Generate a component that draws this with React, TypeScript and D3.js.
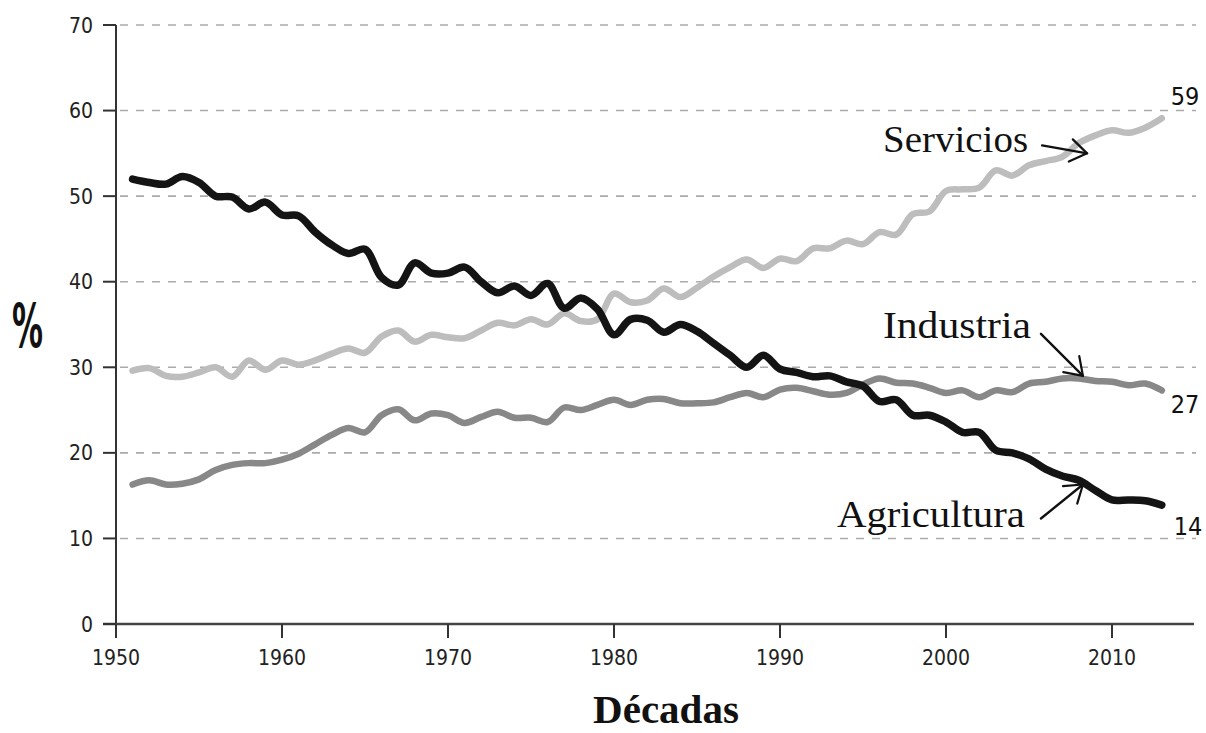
import React from "react";
import * as d3 from "d3";

const years = d3.range(1951, 2014);

const agricultura = [
  52.0, 51.6, 51.4, 52.3, 51.6, 50.0, 49.9, 48.5, 49.3, 47.8,
  47.7, 45.8, 44.3, 43.3, 43.8, 40.5, 39.6, 42.2, 41.0, 41.0,
  41.7, 40.0, 38.7, 39.5, 38.4, 39.8, 36.9, 38.1, 36.8, 33.8,
  35.6, 35.5, 34.1, 35.0, 34.2, 32.8, 31.4, 30.0, 31.4, 29.8,
  29.4, 28.9, 29.0, 28.3, 27.8, 26.0, 26.2, 24.4, 24.4, 23.6,
  22.4, 22.4, 20.3, 20.0, 19.3, 18.1, 17.3, 16.8, 15.6, 14.5,
  14.5, 14.4, 13.9,
];

const servicios = [
  29.6, 29.9, 29.0, 28.9, 29.4, 30.0, 28.9, 30.8, 29.7, 30.8,
  30.3, 30.8, 31.6, 32.2, 31.7, 33.6, 34.3, 33.0, 33.8, 33.5,
  33.4, 34.3, 35.2, 34.9, 35.6, 35.0, 36.3, 35.4, 35.6, 38.6,
  37.6, 37.8, 39.2, 38.2, 39.3, 40.6, 41.7, 42.6, 41.6, 42.7,
  42.4, 43.9, 43.9, 44.8, 44.4, 45.8, 45.5, 47.9, 48.2, 50.6,
  50.8, 51.0, 53.0, 52.4, 53.6, 54.1, 54.6, 56.2, 57.1, 57.7,
  57.4, 58.0, 59.1,
];

const industria = [
  16.3, 16.8, 16.3, 16.4, 16.9, 18.0, 18.6, 18.8, 18.8, 19.2,
  19.9, 21.0, 22.1, 22.9, 22.4, 24.4, 25.1, 23.8, 24.6, 24.4,
  23.5, 24.2, 24.8, 24.1, 24.1, 23.6, 25.3, 25.0, 25.6, 26.2,
  25.6, 26.2, 26.3, 25.8, 25.8, 25.9, 26.5, 27.0, 26.5, 27.4,
  27.6, 27.2, 26.8, 27.0, 28.0, 28.7, 28.2, 28.1, 27.6, 27.0,
  27.3, 26.5, 27.3, 27.1, 28.1, 28.3, 28.7, 28.7, 28.4, 28.3,
  27.9, 28.1, 27.3,
];

const yTicks = [0, 10, 20, 30, 40, 50, 60, 70];
const xTicks = [1950, 1960, 1970, 1980, 1990, 2000, 2010];

const seriesNames = ["Servicios", "Industria", "Agricultura"];
const endLabels = ["59", "27", "14"];
// where each label's arrow points to, in data units
const arrowYears = [2008.5, 2008.25, 2008.25];
const arrowValues = [55.0, 29.0, 16.3];

const W = 1206;
const H = 733;

export default function App() {
  const x = d3.scaleLinear().domain([1950, 2010]).range([116, 1112]);
  const y = d3.scaleLinear().domain([0, 70]).range([624, 25]);

  const series = [
    { name: seriesNames[0], values: servicios, color: "#bdbdbd", width: 6.5, end: endLabels[0], endDx: 9, endDy: -13 },
    { name: seriesNames[1], values: industria, color: "#888888", width: 6.5, end: endLabels[1], endDx: 9, endDy: 23 },
    { name: seriesNames[2], values: agricultura, color: "#141414", width: 7.5, end: endLabels[2], endDx: 12, endDy: 30 },
  ];

  // arrow tail and label position, offsets from the arrow tip
  const arrows = [
    { tail: [-45, -8], text: [-204, -1], len: 145 },
    { tail: [-42, -42], text: [-200, -38], len: 148 },
    { tail: [-42, 34], text: [-246, 42], len: 188 },
  ];

  const line = d3
    .line<number>()
    .x((_, i) => x(years[i]))
    .y((d) => y(d))
    .curve(d3.curveCatmullRom.alpha(0.5));

  const tickFont = "'DejaVu Sans Condensed', 'DejaVu Sans', sans-serif";
  const serif = "'Liberation Serif', 'DejaVu Serif', serif";

  return (
    <svg
      width={W}
      height={H}
      style={{ position: "absolute", left: 0, top: 0, background: "#fff" }}
    >
      {/* grid */}
      {yTicks.filter((t) => t > 0).map((t) => (
        <line
          key={"g" + t}
          x1={x(1950) + 4}
          x2={1196}
          y1={y(t)}
          y2={y(t)}
          stroke="#ababab"
          strokeWidth={1.6}
          strokeDasharray="8 8"
        />
      ))}

      {/* axes */}
      <line x1={x(1950)} x2={x(1950)} y1={y(70)} y2={y(0) + 14} stroke="#333" strokeWidth={2} />
      <line x1={x(1950) - 13} x2={1194} y1={y(0)} y2={y(0)} stroke="#444" strokeWidth={2.4} />
      {yTicks.map((t) => (
        <g key={"y" + t}>
          <line x1={x(1950) - 13} x2={x(1950)} y1={y(t)} y2={y(t)} stroke="#333" strokeWidth={2} />
          <text
            x={x(1950) - 23}
            y={y(t) + 7.5}
            textAnchor="end"
            fontFamily={tickFont}
            fontSize={21}
            fill="#222"
          >
            {t}
          </text>
        </g>
      ))}
      {xTicks.map((t) => (
        <g key={"x" + t}>
          <line x1={x(t)} x2={x(t)} y1={y(0)} y2={y(0) + 14} stroke="#333" strokeWidth={2} />
          <text
            x={x(t)}
            y={y(0) + 41}
            textAnchor="middle"
            fontFamily={tickFont}
            fontSize={21}
            fill="#222"
          >
            {t}
          </text>
        </g>
      ))}

      {/* lines */}
      {series.map((s) => (
        <path
          key={s.name}
          d={line(s.values) || ""}
          fill="none"
          stroke={s.color}
          strokeWidth={s.width}
          strokeLinejoin="round"
          strokeLinecap="round"
        />
      ))}

      {/* end values */}
      {series.map((s) => (
        <text
          key={"e" + s.name}
          x={x(years[years.length - 1]) + s.endDx}
          y={y(s.values[s.values.length - 1]) + s.endDy}
          fontFamily={tickFont}
          fontSize={25}
          fill="#111"
        >
          {s.end}
        </text>
      ))}

      {/* annotations */}
      {series.map((s, i) => {
        const tx = x(arrowYears[i]);
        const ty = y(arrowValues[i]);
        const a = arrows[i];
        const sx = tx + a.tail[0];
        const sy = ty + a.tail[1];
        const ang = Math.atan2(ty - sy, tx - sx);
        const L = 20;
        const spread = 0.6;
        const b1 = [tx - L * Math.cos(ang - spread), ty - L * Math.sin(ang - spread)];
        const b2 = [tx - L * Math.cos(ang + spread), ty - L * Math.sin(ang + spread)];
        return (
          <g key={"a" + s.name}>
            <line x1={sx} y1={sy} x2={tx} y2={ty} stroke="#111" strokeWidth={2.4} strokeLinecap="round" />
            <polyline
              points={`${b1[0]},${b1[1]} ${tx},${ty} ${b2[0]},${b2[1]}`}
              fill="none"
              stroke="#111"
              strokeWidth={2.2}
              strokeLinecap="round"
              strokeLinejoin="round"
            />
            <text
              x={tx + a.text[0]}
              y={ty + a.text[1]}
              fontFamily={serif}
              fontSize={38}
              fill="#111"
              textLength={a.len}
              lengthAdjust="spacingAndGlyphs"
            >
              {s.name}
            </text>
          </g>
        );
      })}

      {/* axis titles */}
      <text
        x={12}
        y={347}
        fontFamily={tickFont}
        fontWeight="bold"
        fontSize={60}
        fill="#111"
        textLength={31}
        lengthAdjust="spacingAndGlyphs"
      >
        %
      </text>
      <text
        x={666}
        y={723}
        textAnchor="middle"
        fontFamily={serif}
        fontWeight="bold"
        fontSize={41}
        fill="#111"
      >
        Décadas
      </text>
    </svg>
  );
}
